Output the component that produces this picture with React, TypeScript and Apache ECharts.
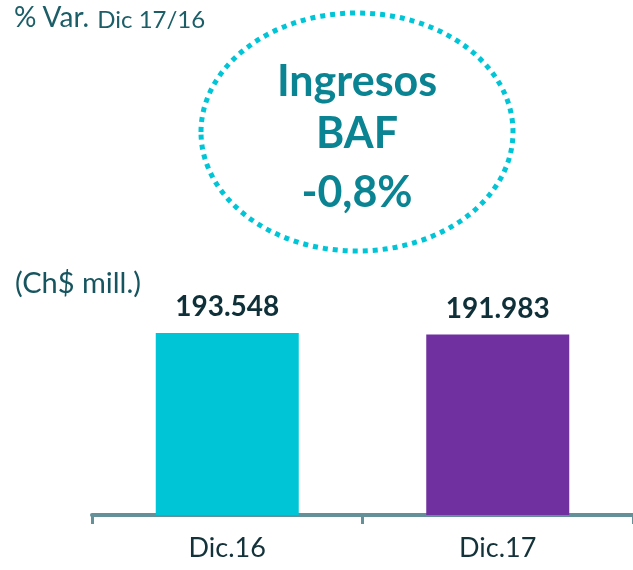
import React, { useEffect, useRef } from "react";
import * as echarts from "echarts";

const categories = ["Dic.16", "Dic.17"];
const values = [193548, 191983];
const barColors = ["#00C5D6", "#70309F"];
const valueLabels = ["193.548", "191.983"];
const bubbleLines = ["Ingresos", "BAF", "-0,8%"];

export default function App() {
  const ref = useRef<HTMLDivElement>(null);
  useEffect(() => {
    const chart = echarts.init(ref.current!, null, { renderer: "svg" });
    chart.setOption({
      animation: false,
      grid: { left: 92, right: 0, top: 327, bottom: 55, containLabel: false },
      xAxis: {
        type: "category",
        data: categories,
        axisLine: { show: true, lineStyle: { color: "#64909A", width: 4 } },
        axisTick: { show: true, length: 9, lineStyle: { color: "#64909A", width: 3 } },
        axisLabel: {
          color: "#13323A",
          fontFamily: "Lato",
          fontSize: 27,
          margin: 18,
        },
      },
      yAxis: { type: "value", min: 0, max: 200000, show: false, splitLine: { show: false } },
      series: [
        {
          type: "bar",
          barWidth: 143,
          data: values.map((v, i) => ({ value: v, itemStyle: { color: barColors[i] } })),
          label: {
            show: true,
            position: "top",
            distance: 14,
            formatter: (p: any) => valueLabels[p.dataIndex],
            color: "#0F3038",
            fontFamily: "Lato",
            fontWeight: "bold",
            fontSize: 28,
          },
        },
      ],
      graphic: [
        {
          type: "text",
          x: 14,
          y: 30,
          style: {
            text: "{a|% Var. }{b|Dic 17/16}",
            verticalAlign: "bottom",
            rich: {
              a: { fontFamily: "Lato", fontSize: 28, lineHeight: 30, fill: "#1C5E68", verticalAlign: "bottom" },
              b: { fontFamily: "Lato", fontSize: 24, lineHeight: 30, fill: "#1C5E68", verticalAlign: "bottom" },
            },
          },
        },
        {
          type: "ellipse",
          shape: { cx: 357, cy: 132, rx: 156, ry: 119 },
          style: { fill: "none", stroke: "#00C5D6", lineWidth: 5, lineDash: [5, 5] },
        },
        ...bubbleLines.map((t, i) => ({
          type: "text",
          x: 357,
          y: [79, 131, 190][i],
          style: {
            text: t,
            fontFamily: "Lato",
            fontWeight: "bold",
            fontSize: 43,
            fill: "#0A8493",
            align: "center",
            verticalAlign: "middle",
          },
        })),
        {
          type: "text",
          left: 15,
          top: 267,
          style: { text: "(Ch$ mill.)", fontFamily: "Lato", fontSize: 29, fill: "#16555F" },
        },
      ],
    });
    return () => chart.dispose();
  }, []);
  return <div ref={ref} style={{ width: 633, height: 570, position: "fixed", left: 0, top: 0 }} />;
}
